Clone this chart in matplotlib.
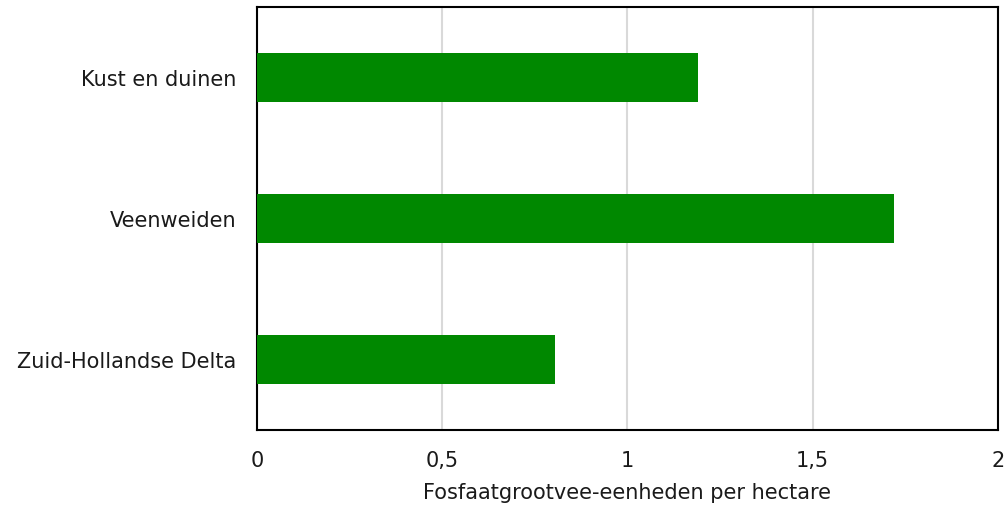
import matplotlib.pyplot as plt

gebieden = ['Kust en duinen', 'Veenweiden', 'Zuid-Hollandse Delta']
waarden = [1.19, 1.72, 0.805]

fig = plt.figure(figsize=(10.08, 5.08), dpi=100)
ax = fig.add_axes([0.255, 0.1535, 0.735, 0.832])

posities = range(len(gebieden))
ax.barh(posities, waarden, height=0.35, color='#008800', zorder=3)
ax.set_ylim(len(gebieden) - 0.5, -0.5)
ax.set_yticks(list(posities))
ax.set_yticklabels(gebieden, fontsize=15, color='#1a1a1a')

ax.set_xlim(0, 2)
ax.set_xticks([0, 0.5, 1, 1.5, 2])
ax.set_xticklabels(['0', '0,5', '1', '1,5', '2'], fontsize=15, color='#1a1a1a')
ax.set_xlabel('Fosfaatgrootvee-eenheden per hectare', fontsize=15,
              labelpad=9, color='#1a1a1a')
ax.tick_params(axis='y', length=0, pad=15)
ax.tick_params(axis='x', length=0, pad=15)
ax.grid(axis='x', color='#d9d9d9', linewidth=1.5, zorder=0)

for s in ax.spines.values():
    s.set_color('black')
    s.set_linewidth(1.5)

fig.savefig('out.png', dpi=100)
